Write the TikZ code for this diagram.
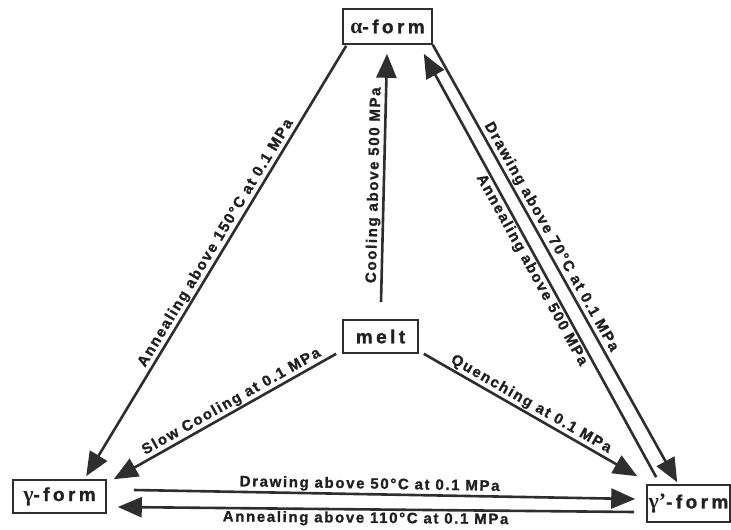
\documentclass[tikz,border=0pt]{standalone}
\usepackage{fontspec}
\setmainfont{Liberation Sans}
\newfontfamily\labfont{Liberation Sans}[LetterSpace=11,FakeBold=1.2]
\newfontfamily\boxfont{Liberation Sans}[LetterSpace=18,FakeBold=1.2]
\newfontfamily\grk{Liberation Serif}[Scale=1.15]
\usetikzlibrary{arrows.meta,calc}
\definecolor{ink}{HTML}{2E2E2E}
\definecolor{txt}{HTML}{202020}
\begin{document}
\begin{tikzpicture}[x=1pt,y=-1pt,
  form/.style={draw=ink, line width=1.6pt, inner sep=0pt, text=txt,
    font={\fontsize{19}{22}\selectfont\boxfont\bfseries}},
  arr/.style={draw=ink, line width=2.6pt, -{Triangle[length=24pt,width=20pt]}},
  lab/.style={sloped, inner sep=1.2pt, text=txt,
    font={\fontsize{15}{17}\selectfont\labfont\bfseries}}]
\useasboundingbox (0,0) rectangle (731,530);
\fill[white] (0,0) rectangle (731,530);

\node[form, minimum width=89pt, minimum height=35pt] (alpha) at (387.5,26.5) {{\grk α}-form};
\node[form, minimum width=75pt, minimum height=33pt] (melt) at (380.5,336.5) {melt};
\node[form, minimum width=93pt, minimum height=33pt] (gamma) at (59.5,496.5) {{\grk γ}-form};
\node[form, minimum width=83pt, minimum height=37pt] (gammap) at (688.5,503.5) {{\grk γ’}-form};

\draw[arr] ($(alpha.south west)+(4,1)$) -- ($(gamma.north west)+(74,-3)$)
  node[lab, above, pos=0.47] {Annealing above 150°C at 0.1 MPa};
\draw[arr] ($(melt.south west)+(-6,0)$) -- ($(gamma.north east)+(7,0)$)
  node[lab, above, pos=0.45] {Slow Cooling at 0.1 MPa};
\draw[arr] ($(melt.north)+(0.5,-17)$) -- ($(alpha.south)+(-0.5,9)$)
  node[lab, above, pos=0.47] {Cooling above 500 MPa};
\draw[arr] ($(melt.south east)+(5,0)$) -- ($(gammap.north west)+(-9,-8)$)
  node[lab, above, pos=0.48] {Quenching at 0.1 MPa};
\draw[arr] (alpha.south east) -- ($(gammap.north west)+(31,-2)$)
  node[lab, above, pos=0.45] {Drawing above 70°C at 0.1 MPa};
\draw[arr] ($(gammap.north west)+(10,-7)$) -- ($(alpha.south east)+(-9,9)$)
  node[lab, below, pos=0.5] {Annealing above 500 MPa};
\draw[arr] ($(gamma.east)+(27,-6.5)$) -- ($(gammap.west)+(-11,-4.5)$)
  node[lab, above, pos=0.47] {Drawing above 50°C at 0.1 MPa};
\draw[arr] ($(gammap.west)+(-12,8.5)$) -- ($(gamma.east)+(11,10.5)$)
  node[lab, below, pos=0.52] {Annealing above 110°C at 0.1 MPa};
\end{tikzpicture}
\end{document}
